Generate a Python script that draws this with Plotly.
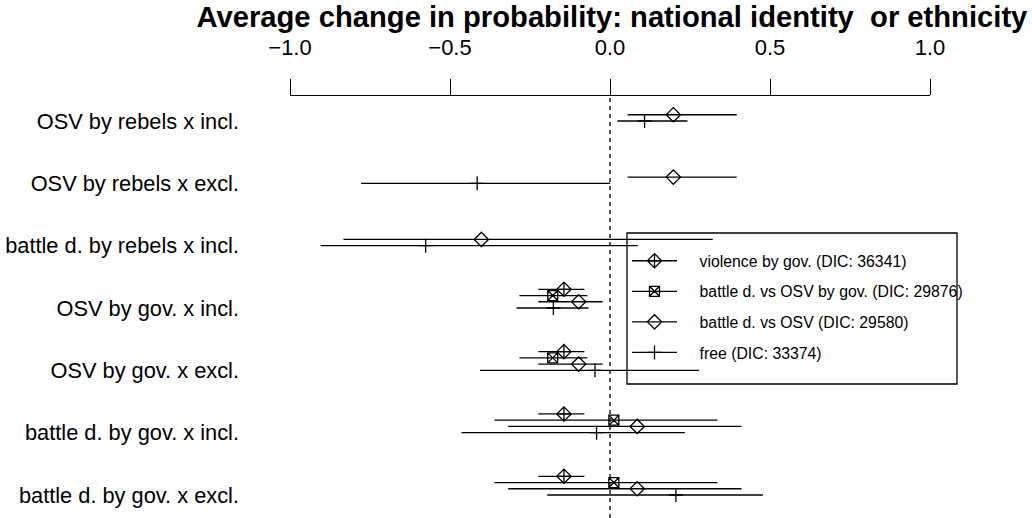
import plotly.graph_objects as go

# ---------------- data ----------------
row_labels = [
    "OSV by rebels x incl.",
    "OSV by rebels x excl.",
    "battle d. by rebels x incl.",
    "OSV by gov. x incl.",
    "OSV by gov. x excl.",
    "battle d. by gov. x incl.",
    "battle d. by gov. x excl.",
]
row_index = [1, 2, 3, 4, 5, 6, 7]

series_names = [
    "violence by gov. (DIC: 36341)",
    "battle d. vs OSV by gov. (DIC: 29876)",
    "battle d. vs OSV (DIC: 29580)",
    "free (DIC: 33374)",
]

# estimates and 95% intervals per row (None = not estimated)
violence_est = [None, None, None, -0.144, -0.144, -0.144, -0.144]
violence_lo = [None, None, None, -0.224, -0.224, -0.224, -0.224]
violence_hi = [None, None, None, -0.080, -0.080, -0.080, -0.080]

bdosvgov_est = [None, None, None, -0.179, -0.179, 0.012, 0.012]
bdosvgov_lo = [None, None, None, -0.283, -0.283, -0.361, -0.361]
bdosvgov_hi = [None, None, None, -0.071, -0.071, 0.336, 0.336]

bdosv_est = [0.198, 0.198, -0.402, -0.098, -0.098, 0.085, 0.085]
bdosv_lo = [0.055, 0.055, -0.833, -0.224, -0.224, -0.318, -0.318]
bdosv_hi = [0.396, 0.396, 0.321, -0.023, -0.023, 0.411, 0.411]

free_est = [0.108, -0.415, -0.576, -0.177, -0.047, -0.042, 0.206]
free_lo = [0.023, -0.778, -0.904, -0.292, -0.406, -0.464, -0.196]
free_hi = [0.242, 0.000, 0.087, -0.067, 0.278, 0.234, 0.478]

x_ticks = [-1.0, -0.5, 0.0, 0.5, 1.0]
title_text = "Average change in probability: national identity\u00a0 or ethnicity"

# ---------------- style ----------------
FONT = "Liberation Sans, Arial, Helvetica, sans-serif"
LW = 1.3
offsets = [-0.3, -0.2, -0.1, 0.0]
symbols = ["diamond-cross-open", "square-x-open", "diamond-open", "cross-thin-open"]
sizes = [11, 10, 11, 10]

# plot-area geometry in pixels (used to place legend box in paper coords)
PL, PR, PT, PB = 290, 930, 96, 518


def px_x(px):
    return (px - PL) / (PR - PL)


def px_y(py):
    return (PB - py) / (PB - PT)


series = [
    (violence_est, violence_lo, violence_hi),
    (bdosvgov_est, bdosvgov_lo, bdosvgov_hi),
    (bdosv_est, bdosv_lo, bdosv_hi),
    (free_est, free_lo, free_hi),
]

fig = go.Figure()

for s, (est, lo, hi) in enumerate(series):
    xs, ys, plus, minus = [], [], [], []
    for r, e, l, h in zip(row_index, est, lo, hi):
        if e is None:
            continue
        xs.append(e)
        ys.append(r + offsets[s])
        plus.append(h - e)
        minus.append(e - l)
    fig.add_trace(go.Scatter(
        x=xs, y=ys, mode="markers", showlegend=False,
        marker=dict(symbol=symbols[s], size=sizes[s], color="black",
                    line=dict(width=LW, color="black")),
        error_x=dict(type="data", symmetric=False, array=plus, arrayminus=minus,
                     width=0, thickness=LW, color="black"),
        hoverinfo="skip",
    ))

# legend entries
PAD = "\u00a0" * 4
for s, name in enumerate(series_names):
    fig.add_trace(go.Scatter(
        x=[None], y=[None], mode="lines+markers", name=PAD + name,
        legendgroup=f"g{s}",
        line=dict(color="black", width=LW),
        marker=dict(symbol=symbols[s], size=sizes[s], color="black",
                    line=dict(width=LW, color="black")),
    ))

# zero reference line
fig.add_shape(type="line", xref="x", yref="paper", x0=0, x1=0, y0=0, y1=1,
              line=dict(color="black", width=LW, dash="4px,4px"))

# legend frame
fig.add_shape(type="rect", xref="paper", yref="paper",
              x0=px_x(627), x1=px_x(957), y0=px_y(384), y1=px_y(233),
              line=dict(color="black", width=LW), fillcolor="rgba(0,0,0,0)")

fig.update_layout(
    width=1032, height=518, autosize=False,
    margin=dict(l=PL, r=1032 - PR, t=PT, b=518 - PB, pad=0),
    paper_bgcolor="white", plot_bgcolor="white",
    font=dict(family=FONT, color="black", size=21),
    title=dict(text="<b>" + title_text + "</b>", font=dict(size=29.2, family=FONT, color="black"),
               x=0.503, xref="paper", xanchor="center",
               y=1 - 17 / 518, yref="container", yanchor="middle"),
    xaxis=dict(range=[-1.0, 1.0], side="top", tickvals=x_ticks, tickformat=".1f",
               showline=True, linecolor="black", linewidth=LW,
               ticks="outside", ticklen=16, tickwidth=LW, tickcolor="black",
               ticklabelstandoff=15,
               showgrid=False, zeroline=False, tickfont=dict(size=22)),
    yaxis=dict(range=[7.369, 0.599], tickvals=row_index, ticktext=row_labels,
               showline=False, ticks="", showgrid=False, zeroline=False,
               ticklabelstandoff=50, tickfont=dict(size=21.8)),
    legend=dict(x=px_x(627), y=px_y(244), xanchor="left", yanchor="top",
                bgcolor="rgba(0,0,0,0)", borderwidth=0,
                font=dict(size=15.8), itemwidth=45, tracegroupgap=7,
                traceorder="grouped"),
    showlegend=True,
)

fig.write_html("out.html")
